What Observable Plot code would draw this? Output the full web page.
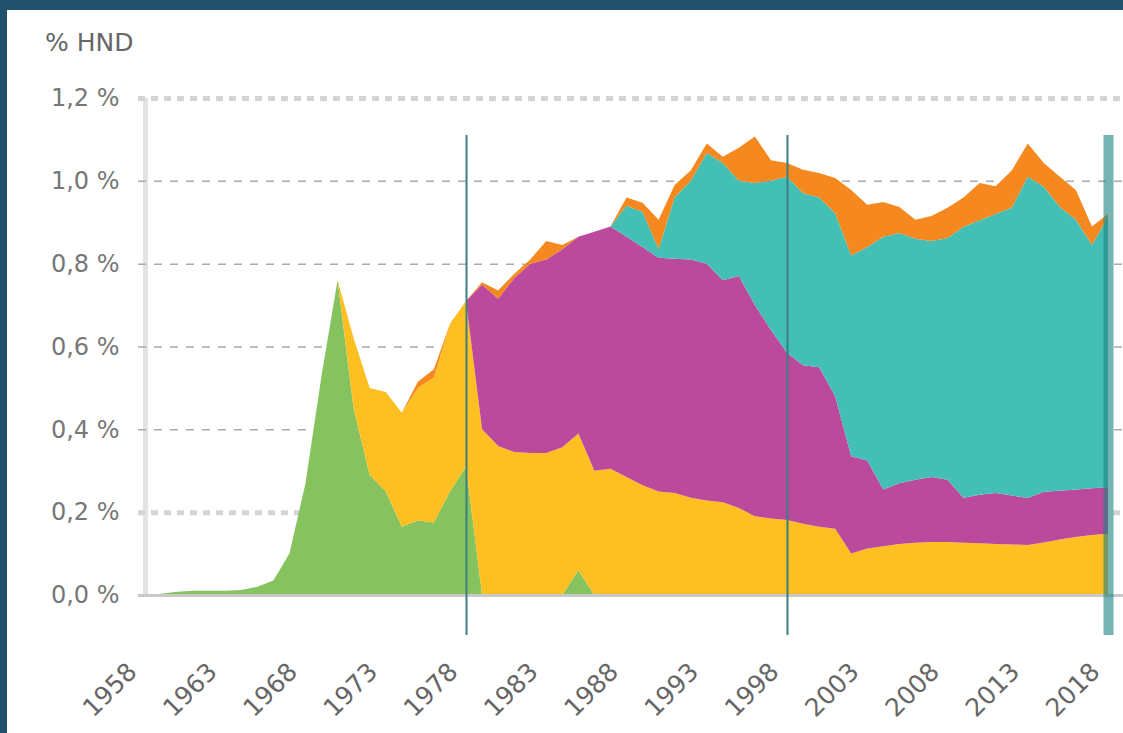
<!DOCTYPE html>
<html><head><meta charset="utf-8">
<script src="https://cdn.jsdelivr.net/npm/d3@7"></script>
<script src="https://cdn.jsdelivr.net/npm/@observablehq/plot@0.6"></script>
<style>
html,body{margin:0;padding:0;background:#21506c;width:1123px;height:733px;overflow:hidden;}
#panel{position:absolute;left:7px;top:10px;width:1116px;height:723px;background:#fff;}
#ylabel{position:absolute;left:38px;top:18px;font:25px "DejaVu Sans",sans-serif;color:#666;}
#chart{position:absolute;left:0;top:50px;}
</style></head><body>
<div id="panel"><div id="ylabel">% HND</div><div id="chart"></div></div>
<script>
const years = [1958,1959,1960,1961,1962,1963,1964,1965,1966,1967,1968,1969,1970,1971,1972,1973,1974,1975,1976,1977,1978,1979,1980,1981,1982,1983,1984,1985,1986,1987,1988,1989,1990,1991,1992,1993,1994,1995,1996,1997,1998,1999,2000,2001,2002,2003,2004,2005,2006,2007,2008,2009,2010,2011,2012,2013,2014,2015,2016,2017,2018];

const green = [0,0.003,0.008,0.01,0.01,0.01,0.012,0.02,0.035,0.10,0.27,0.53,0.76,0.45,0.29,0.25,0.165,0.18,0.175,0.25,0.31,0,0,0,0,0,0,0.06,0,
  0,0,0,0,0,0,0,0,0,0,0,0,0,0,0,0,0,0,0,0,0,0,0,0,0,0,0,0,0,0,0,0];
const yellow = [0,0,0,0,0,0,0,0,0,0,0,0,0,
  0.17,0.21,0.24,0.275,0.32,0.35,0.405,0.40,0.40,0.36,0.345,0.343,0.343,0.357,0.33,0.30,0.305,0.285,0.265,0.25,0.246,0.235,0.228,0.224,0.21,0.19,0.185,0.181,0.172,0.165,0.16,0.10,0.112,0.118,0.123,0.126,0.128,0.128,0.126,0.125,0.123,0.122,0.121,0.127,0.134,0.14,0.145,0.148];
const magenta = [0,0,0,0,0,0,0,0,0,0,0,0,0,0,0,0,0,0,0,0,0,
  0.35,0.355,0.42,0.457,0.467,0.478,0.475,0.577,0.585,0.58,0.575,0.564,0.566,0.575,0.572,0.536,0.56,0.51,0.455,0.404,0.383,0.385,0.32,0.235,0.213,0.137,0.147,0.152,0.157,0.15,0.109,0.117,0.123,0.118,0.113,0.122,0.118,0.115,0.113,0.112];
const teal = [0,0,0,0,0,0,0,0,0,0,0,0,0,0,0,0,0,0,0,0,0,0,0,0,0,0,0,0,0,0,
  0.075,0.085,0.021,0.148,0.19,0.267,0.283,0.23,0.295,0.36,0.425,0.415,0.41,0.442,0.485,0.515,0.61,0.604,0.582,0.57,0.584,0.654,0.663,0.674,0.695,0.776,0.737,0.685,0.651,0.587,0.653];
const orange = [0,0,0,0,0,0,0,0,0,0,0,0,0,0,0,0,0,
  0.015,0.02,0,0,0.005,0.02,0.01,0.01,0.045,0.01,0,0,0,0.02,0.022,0.071,0.03,0.025,0.023,0.015,0.08,0.112,0.05,0.033,0.057,0.059,0.085,0.158,0.102,0.084,0.063,0.046,0.06,0.073,0.071,0.09,0.067,0.09,0.08,0.057,0.073,0.072,0.045,0.007];

const seriesNames = ["řada 1","řada 2","řada 3","řada 4","řada 5"];
const seriesColors = ["#86c35f","#fdbf22","#bc4a9c","#44bfb5","#f5891f"];
const xTicks = [1958,1963,1968,1973,1978,1983,1988,1993,1998,2003,2008,2013,2018];
const yTicks = [0,0.2,0.4,0.6,0.8,1.0,1.2];
const dottedGrid = [0.2,1.2];
const dashedGrid = [0.4,0.6,0.8,1.0];
const markerYears = [1978,1998];
const bandYears = [2018];

const cols = [green, yellow, magenta, teal, orange];
const rows = [];
years.forEach((yr,i) => cols.forEach((c,j) => rows.push({year: yr, series: seriesNames[j], value: c[i]})));

const chart = Plot.plot({
  width: 1116, height: 673,
  marginLeft: 138, marginRight: 15, marginTop: 38, marginBottom: 138,
  style: {fontFamily: "'DejaVu Sans', sans-serif", fontSize: "24px", color: "#666", background: "transparent", overflow: "visible"},
  x: {domain: [1958, 2018]},
  y: {domain: [0, 1.2]},
  color: {domain: seriesNames, range: seriesColors},
  marks: [
    Plot.ruleX([1958], {stroke: "#e3e3e3", strokeWidth: 5}),
    Plot.ruleY(dottedGrid, {stroke: "#d4d4d4", strokeWidth: 5, strokeDasharray: "7,6", insetLeft: -7, insetRight: -15}),
    Plot.ruleY(dashedGrid, {stroke: "#aaaaaa", strokeWidth: 1.5, strokeDasharray: "8,8", insetLeft: -7, insetRight: -15}),
    Plot.areaY(rows, {x: "year", y: "value", z: "series", fill: "series", order: seriesNames}),
    Plot.ruleY([0], {stroke: "#c8c8c8", strokeWidth: 3, insetLeft: -7, insetRight: -15}),
    Plot.ruleX(markerYears, {stroke: "#3b7f80", strokeWidth: 2, insetTop: 37, insetBottom: -40}),
    Plot.ruleX(bandYears, {stroke: "#1a8080", strokeOpacity: 0.6, strokeWidth: 10, insetTop: 37, insetBottom: -40}),
    Plot.axisY({ticks: yTicks, tickSize: 0, tickPadding: 26, label: null, fill: "#777", fontSize: 24,
      tickFormat: d => d.toFixed(1).replace(".", ",") + " %"}),
    Plot.axisX({ticks: xTicks, tickSize: 0, tickRotate: -45, tickPadding: 72, dx: -13, label: null, fill: "#666", fontSize: 25,
      tickFormat: d => String(d)})
  ]
});
document.getElementById("chart").appendChild(chart);
</script>
</body></html>
